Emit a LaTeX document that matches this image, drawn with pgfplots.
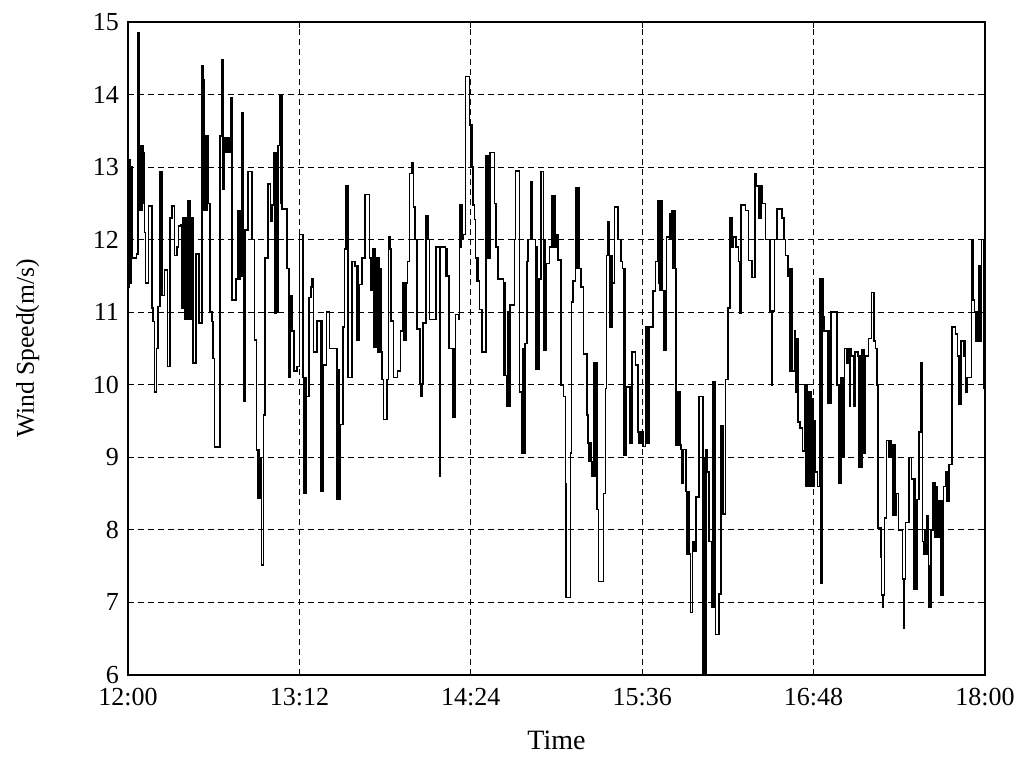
\documentclass[border=0pt]{standalone}
\usepackage{pgfplots}
\pgfplotsset{compat=1.18}
\usepackage{fontspec}
\setmainfont{Liberation Serif}

\pgfplotstableread{
t v
0 11.35
0.4 13.1
0.8 11.4
1.2 13.0
1.6 11.75
3.6 11.8
4.1 14.85
4.6 12.4
5.0 13.3
5.4 12.4
5.8 13.3
6.2 12.5
6.6 13.2
7.0 12.1
7.4 11.4
8.6 12.46
10.0 11.06
10.6 10.87
11.2 9.9
12.0 10.5
12.6 11.08
13.4 12.94
14.2 11.23
15.4 11.58
16.6 10.25
17.6 12.3
18.6 12.46
19.6 11.78
20.6 11.9
21.2 12.19
22.0 12.2
22.6 11.06
23.2 12.3
23.7 10.9
24.2 12.3
24.7 10.9
25.3 12.54
26.0 10.9
26.6 12.3
27.4 10.3
28.6 11.8
29.8 10.85
31.0 14.39
31.4 12.4
31.8 14.2
32.2 12.4
32.6 13.43
33.0 12.4
33.4 13.43
33.8 12.5
34.4 11.0
35.2 10.87
35.8 10.36
36.4 9.14
38.6 13.43
39.2 14.48
39.8 12.7
40.6 13.4
41.2 13.2
41.8 13.4
42.4 13.2
43.0 13.96
43.8 11.17
45.4 11.46
46.2 12.4
46.6 11.46
47.0 12.4
47.4 11.5
47.8 13.75
48.3 12.13
48.8 9.78
49.4 12.13
50.4 12.94
52.2 12.0
53.2 10.62
54.0 9.1
54.4 8.44
54.8 9.1
55.2 8.44
55.6 9.0
56.0 7.52
57.0 9.58
57.6 11.75
58.8 12.77
59.8 12.25
60.4 12.48
61.4 13.2
61.8 10.98
62.2 13.2
62.6 11.0
63.0 13.3
63.6 14.0
64.0 12.5
64.4 14.0
64.8 12.42
66.8 11.6
67.6 10.1
68.2 11.23
68.9 10.74
69.7 10.19
71.0 10.25
72.0 12.07
73.5 10.1
73.9 8.5
74.3 10.1
74.7 8.5
75.0 9.84
76.0 11.2
76.8 11.35
77.3 11.46
78.0 10.45
79.3 10.88
80.8 8.53
81.2 10.88
81.6 8.53
82.2 10.27
83.4 11.0
84.6 10.5
87.8 8.42
88.3 10.2
88.8 8.42
89.3 9.45
90.3 10.8
91.0 11.87
91.6 12.74
92.4 10.1
94.2 11.7
95.4 11.64
96.0 10.62
96.4 11.64
96.8 10.62
97.2 11.38
98.4 11.75
99.6 12.62
101.5 11.75
102.0 11.3
102.8 11.87
103.2 10.52
103.6 11.87
104.0 10.52
104.4 11.75
104.8 10.45
105.2 11.75
105.6 10.45
106.0 11.6
106.4 10.45
106.8 10.07
107.3 9.52
108.8 10.07
109.4 12.04
110.0 11.87
110.5 10.88
111.6 10.1
113.2 10.19
114.4 10.74
115.3 11.4
115.7 10.62
116.1 11.4
116.5 10.62
116.9 11.4
117.4 11.7
118.2 12.91
119.2 13.06
120.0 12.45
120.6 12.0
121.4 10.77
122.6 10.01
123.0 9.84
123.4 10.01
124.0 10.85
125.2 12.33
126.0 12.0
126.6 10.9
128.2 10.9
129.4 11.9
130.8 8.74
131.2 11.9
133.3 11.5
133.6 11.87
134.0 11.5
134.8 10.5
136.4 9.55
136.8 10.5
137.2 9.55
137.6 10.97
138.8 10.9
139.3 12.48
139.7 11.9
140.0 12.48
140.4 12.0
141.0 12.07
141.8 14.25
143.4 13.58
143.8 13.0
144.2 13.58
144.6 13.0
144.8 12.48
145.6 12.28
146.0 11.75
146.4 11.43
146.8 11.75
147.2 11.43
147.6 11.04
148.8 10.45
150.4 13.15
150.8 11.75
151.2 13.15
151.6 11.75
152.0 13.2
153.9 12.5
154.6 11.9
155.3 11.46
157.8 10.13
158.2 11.4
158.6 10.13
159.0 9.7
159.4 11.0
159.8 9.7
160.4 11.1
162.3 12.0
162.8 12.95
164.4 9.9
165.6 9.06
166.0 10.5
166.4 9.06
166.8 10.57
167.5 11.7
168.0 12.0
169.0 12.8
169.8 12.0
171.1 10.22
171.5 11.9
171.9 10.22
172.6 11.46
173.6 12.94
174.6 10.48
175.0 12.0
175.4 10.48
175.8 11.67
177.0 11.9
178.2 12.6
178.5 11.9
178.9 12.6
179.3 11.9
180.0 12.07
180.6 11.72
182.0 10.0
183.0 9.84
183.8 8.64
184.0 7.07
185.8 9.06
186.3 11.14
187.0 11.43
188.0 12.71
188.4 11.6
188.8 12.71
189.4 11.6
190.4 11.35
191.4 10.42
192.8 9.58
193.2 9.2
193.6 8.94
194.0 9.2
194.4 8.94
194.8 8.74
195.6 10.3
196.2 8.74
196.6 10.3
197.0 8.28
197.6 7.29
199.8 8.5
200.6 9.95
201.0 11.78
201.4 12.25
202.0 11.78
202.4 10.8
202.8 11.78
203.2 10.8
203.6 11.4
204.4 12.45
205.8 12.0
207.0 11.7
207.8 11.6
208.2 9.03
208.6 11.6
209.0 9.03
209.4 9.97
210.8 9.2
211.8 10.45
213.2 10.27
214.2 9.35
214.6 9.2
215.2 9.35
215.6 9.2
216.0 9.35
216.4 9.15
217.4 10.8
217.8 9.2
218.2 10.8
218.6 9.2
219.0 10.8
220.5 11.29
221.6 11.7
222.4 12.54
222.8 11.4
223.2 12.54
223.6 11.3
224.0 12.54
224.4 11.3
225.0 10.48
225.4 11.3
225.8 10.48
226.2 12.04
227.4 12.36
227.8 12.0
228.2 12.36
228.6 12.4
229.0 11.6
229.4 12.4
229.8 11.6
230.2 9.17
230.6 9.9
231.0 9.17
231.4 9.9
231.8 9.17
232.2 9.11
232.6 8.64
233.2 9.11
234.5 8.53
234.9 7.67
235.3 8.53
235.7 7.67
236.3 6.86
237.1 7.84
237.7 7.7
238.5 8.45
239.8 9.84
241.5 6.0
242.0 9.0
242.4 6.0
242.8 9.1
243.4 8.8
244.0 7.84
244.8 7.84
245.2 6.94
245.6 10.04
246.0 6.94
246.4 10.04
246.8 6.56
248.3 7.12
249.0 9.44
249.4 8.22
249.8 9.44
250.2 8.22
251.0 10.07
252.0 11.06
252.8 12.3
253.6 11.9
254.4 12.04
255.4 11.9
256.4 11.7
257.0 10.99
257.6 12.48
259.4 12.4
260.6 11.71
262.2 11.48
263.4 12.91
264.0 12.74
264.8 12.3
265.2 12.74
265.6 12.3
266.0 12.74
266.6 12.5
267.8 12.0
269.6 11.02
270.4 9.99
270.8 11.02
271.6 12.0
272.6 12.42
274.7 12.3
275.6 12.0
276.2 11.78
277.2 11.5
277.8 11.6
278.2 10.19
278.6 11.6
279.0 10.19
280.0 10.74
280.4 9.9
280.8 10.64
281.4 9.49
282.4 9.4
283.4 9.09
284.2 10.0
284.6 8.6
285.0 10.0
285.4 8.6
285.8 9.9
286.2 8.6
286.6 9.9
287.0 8.6
287.4 9.8
287.8 8.6
288.2 9.5
288.8 8.8
289.6 8.6
290.8 11.46
291.2 7.26
291.6 11.46
292.0 10.94
292.4 10.74
294.0 9.74
294.4 10.74
294.8 9.74
295.2 11.0
297.8 10.0
298.6 8.64
299.4 10.1
299.8 9.0
300.2 10.1
300.6 9.0
301.0 10.5
302.0 10.3
302.6 10.5
303.0 9.7
303.4 10.5
304.0 10.4
304.8 9.7
305.4 10.45
306.6 10.4
307.0 8.86
307.4 10.4
307.8 8.86
308.4 10.48
309.2 9.06
309.8 10.4
311.0 10.64
312.4 11.27
313.4 10.6
314.0 10.5
314.6 10.0
315.0 8.03
316.2 7.63
316.6 7.1
317.0 6.93
317.4 7.1
317.8 8.16
318.6 9.23
319.4 9.0
320.0 9.23
320.4 9.0
321.0 9.17
321.4 8.2
321.8 9.17
322.2 8.2
322.6 8.5
323.6 8.0
325.4 7.32
325.8 6.65
326.2 7.32
326.6 8.1
328.0 9.0
329.2 8.7
330.0 7.18
330.4 8.7
330.8 7.18
331.4 8.42
332.2 9.35
333.0 10.3
333.8 7.84
334.2 7.67
334.6 8.0
335.0 7.67
335.6 8.2
336.2 7.5
336.6 6.93
337.4 7.99
338.2 8.65
339.0 7.9
339.4 8.6
339.8 7.9
340.6 8.4
341.4 7.1
341.8 8.4
342.2 7.1
342.6 8.6
343.4 8.8
343.8 8.4
344.2 8.8
344.6 8.4
345.0 8.9
346.2 10.8
347.6 10.7
348.4 10.4
348.8 9.73
349.2 10.4
349.6 9.73
350.0 10.6
351.0 10.4
351.4 10.6
351.8 9.9
352.4 10.1
354.4 12.0
355.0 11.17
355.6 11.0
356.0 10.6
356.4 11.0
356.8 10.6
357.2 11.64
357.8 10.6
358.6 12.0
359.4 9.95
360 9.95
}\windtable

\begin{document}
\begin{tikzpicture}
\useasboundingbox (-64pt,-41.5pt) rectangle (448pt,337.5pt);
\begin{axis}[
  scale only axis,
  width=428.5pt,
  height=326.5pt,
  xmin=0, xmax=360,
  ymin=6, ymax=15,
  xtick={0,72,144,216,288,360},
  xticklabels={12:00,13:12,14:24,15:36,16:48,18:00},
  ytick={6,7,...,15},
  tick label style={font=\fontsize{13}{15}\selectfont},
  xticklabel style={yshift=-3pt},
  yticklabel style={xshift=-1pt, text depth=0pt},
  xlabel style={font=\fontsize{14}{16}\selectfont, at={(axis description cs:0.5,-0.0995)}, anchor=center},
  ylabel style={font=\fontsize{12.8}{15}\selectfont, at={(axis description cs:-0.117,0.5)}, anchor=center},
  /pgf/number format/assume math mode=true,
  xlabel={Time},
  ylabel={Wind Speed(m/s)},
  grid=major,
  grid style={black, line width=0.5pt, dash pattern=on 3pt off 2pt},
  axis line style={line width=0.75pt},
  tick style={black, line width=0.5pt},
  major tick length=3pt,
  tick align=inside,
]
\addplot[const plot, black, line width=0.8pt] table[x=t, y=v] {\windtable};
\end{axis}
\end{tikzpicture}
\end{document}
